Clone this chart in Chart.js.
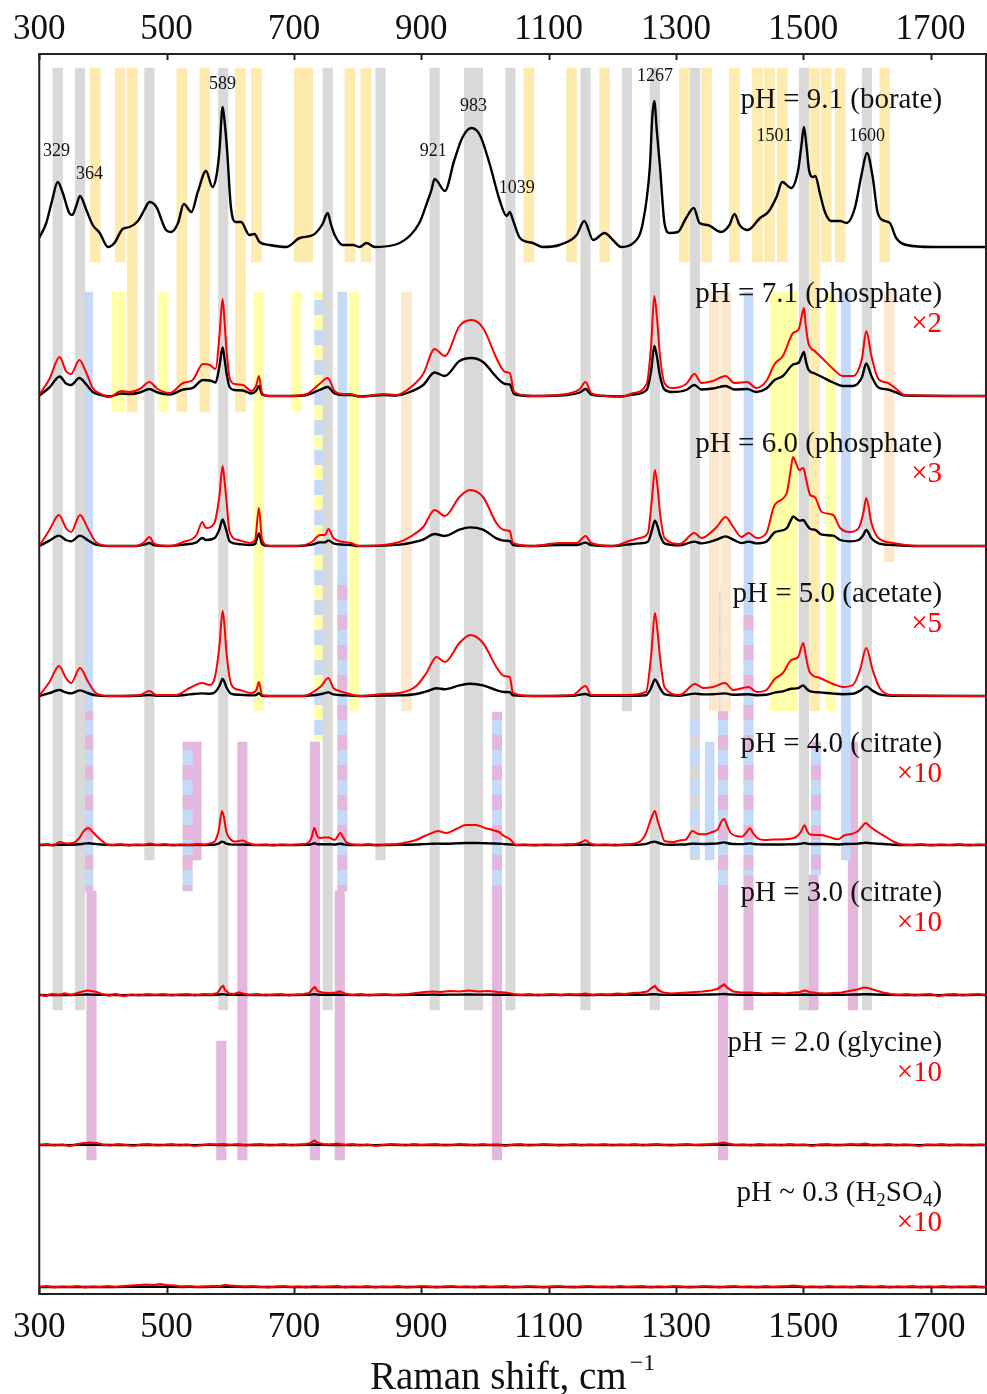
<!DOCTYPE html>
<html>
<head>
<meta charset="utf-8">
<script src="https://cdn.jsdelivr.net/npm/chart.js@4.4.0/dist/chart.umd.min.js"></script>
<style>
  html, body { margin: 0; padding: 0; background: #fff; }
</style>
</head>
<body>
<canvas id="raman-chart" width="987" height="1394"></canvas>
<script>
// Labels and magnification of each spectrum (top to bottom)
const phLabels = [
  'pH = 9.1 (borate)',
  'pH = 7.1 (phosphate)',
  'pH = 6.0 (phosphate)',
  'pH = 5.0 (acetate)',
  'pH = 4.0 (citrate)',
  'pH = 3.0 (citrate)',
  'pH = 2.0 (glycine)',
  'pH ~ 0.3 (H_2SO_4)'
];
const magnification = [1, 2, 3, 5, 10, 10, 10, 10];
// vertical offset of each trace (same units as intensity)
const stackOffsets = [1048, 898, 748, 598, 449, 299, 149, 7];

const xTicks = [300, 500, 700, 900, 1100, 1300, 1500, 1700];
const peakLabels = [329, 364, 589, 921, 983, 1039, 1267, 1501, 1600];

// Spectra: [Raman shift, intensity]; for pH < 9.1 the values are the magnified (red) trace
const spec91 = [[300,8],[311,23],[320,45],[329,64],[337,53],[347,33],[352,31],[358,40],[364,50],[374,36],[384,21],[395,13],[408,-1],[418,3],[431,17],[442,19],[455,25],[465,36],[473,44],[484,39],[499,16],[507,14],[518,23],[527,42],[539,34],[549,54],[562,75],[572,59],[578,69],[583,95],[588,139],[591,125],[595,96],[601,39],[609,24],[617,24],[630,11],[638,12],[646,4],[662,1],[688,-1],[709,8],[730,11],[745,22],[753,33],[758,22],[764,11],[777,1],[793,1],[803,-1],[814,3],[827,-1],[866,3],[897,23],[910,45],[916,56],[921,67],[925,65],[937,55],[952,86],[965,109],[979,118],[992,111],[1007,83],[1023,46],[1034,30],[1039,34],[1044,26],[1055,8],[1075,3],[1091,-1],[1117,1],[1144,11],[1156,25],[1170,6],[1188,13],[1201,6],[1214,-1],[1233,3],[1248,23],[1259,79],[1263,130],[1266,145],[1270,115],[1275,79],[1282,23],[1290,13],[1303,14],[1316,28],[1328,38],[1337,23],[1350,21],[1371,14],[1384,21],[1392,32],[1400,21],[1413,16],[1432,28],[1445,34],[1458,49],[1467,64],[1481,58],[1492,76],[1497,100],[1501,119],[1505,100],[1509,76],[1515,69],[1519,70],[1526,53],[1534,34],[1544,25],[1558,25],[1568,23],[1581,38],[1592,73],[1600,93],[1609,69],[1617,33],[1628,25],[1636,23],[1646,8],[1662,1],[1704,-1],[1787,-1]];
const spec71 = [[300,1],[316,17],[332,39],[342,25],[350,22],[363,36],[374,23],[384,8],[397,2],[410,-1],[429,5],[442,4],[458,7],[473,14],[486,7],[505,3],[526,13],[541,16],[557,32],[568,31],[577,27],[583,60],[588,97],[591,75],[594,47],[599,18],[607,12],[620,11],[633,5],[641,11],[645,20],[650,3],[662,0],[693,0],[720,2],[740,12],[753,18],[764,5],[777,2],[790,2],[803,-1],[840,2],[861,1],[882,8],[903,22],[921,47],[937,40],[960,70],[979,76],[997,68],[1018,38],[1026,28],[1032,24],[1039,23],[1046,4],[1075,0],[1128,2],[1149,7],[1158,14],[1167,3],[1191,0],[1214,-1],[1233,3],[1254,12],[1261,50],[1266,100],[1270,80],[1275,40],[1282,13],[1295,8],[1316,12],[1329,22],[1340,13],[1358,15],[1378,20],[1392,13],[1412,14],[1426,8],[1442,15],[1455,32],[1468,40],[1484,63],[1493,67],[1497,78],[1501,88],[1504,70],[1508,53],[1518,45],[1531,37],[1547,27],[1562,20],[1578,20],[1592,37],[1599,65],[1607,40],[1618,17],[1633,13],[1644,8],[1660,1],[1787,0]];
const spec60 = [[300,0],[316,16],[331,31],[342,18],[350,14],[364,31],[376,18],[389,4],[410,0],[452,0],[465,4],[473,9],[481,2],[505,0],[526,4],[547,11],[556,24],[562,18],[575,23],[583,50],[588,80],[591,65],[594,46],[599,14],[613,6],[631,3],[639,6],[645,38],[650,6],[662,0],[704,0],[728,4],[741,11],[749,11],[754,17],[762,8],[777,4],[790,3],[801,0],[840,1],[866,4],[882,9],[903,19],[921,36],[937,30],[960,49],[976,56],[997,49],[1018,23],[1030,16],[1039,15],[1044,3],[1075,0],[1117,3],[1144,3],[1158,10],[1167,3],[1201,0],[1222,4],[1243,8],[1256,13],[1262,45],[1267,76],[1271,60],[1275,33],[1282,8],[1306,2],[1329,13],[1340,8],[1364,19],[1378,29],[1390,19],[1403,9],[1414,13],[1427,8],[1442,13],[1455,41],[1474,53],[1480,75],[1484,89],[1489,82],[1494,76],[1500,78],[1505,65],[1511,51],[1518,49],[1529,34],[1547,31],[1558,18],[1573,14],[1587,18],[1594,32],[1599,48],[1607,23],[1618,8],[1641,3],[1680,0],[1787,0]];
const spec50 = [[300,0],[316,14],[331,30],[342,18],[350,13],[364,28],[376,15],[389,3],[410,0],[458,1],[473,5],[484,1],[515,1],[536,8],[556,13],[568,11],[576,19],[583,50],[588,85],[591,70],[594,44],[602,11],[615,6],[633,3],[641,6],[645,14],[650,1],[662,0],[714,0],[730,4],[743,10],[754,18],[762,8],[772,5],[782,3],[803,0],[840,2],[866,3],[892,10],[908,23],[924,39],[937,34],[960,53],[977,61],[997,53],[1018,29],[1030,20],[1039,19],[1044,3],[1075,0],[1138,1],[1158,10],[1167,1],[1222,1],[1253,4],[1261,40],[1267,83],[1271,65],[1275,39],[1282,9],[1306,1],[1330,12],[1343,8],[1358,9],[1377,13],[1390,6],[1414,9],[1427,4],[1442,6],[1455,17],[1468,23],[1481,36],[1492,39],[1500,53],[1504,40],[1510,24],[1526,18],[1547,12],[1562,9],[1578,11],[1589,26],[1599,48],[1609,26],[1620,8],[1641,1],[1787,0]];
const spec40 = [[300,0],[312,1],[322,-0.5],[332,3],[342,1.5],[353,2],[363,7],[370,14],[377,17],[384,13],[390,9],[397,5],[405,1],[415,0],[428,1],[440,-0.5],[452,0.5],[463,0],[473,1.5],[485,0],[497,1],[510,-0.5],[522,0.5],[535,0],[548,1],[560,0.5],[570,2],[576,4],[582,15],[587,34],[590,28],[594,13],[600,6],[606,3.5],[614,4],[620,4.5],[628,2],[641,0],[655,0.5],[668,-0.5],[680,0.5],[692,0],[704,0.5],[714,1],[722,2],[728,8],[732,17],[736,10],[740,7],[748,7.5],[755,7.5],[764,5],[769,9],[773,12],[777,8],[782,3],[792,0.5],[805,0],[818,1],[830,-0.5],[845,0.5],[861,1],[876,2.5],[892,5],[905,9],[913,11],[926,14],[939,12],[955,16],[970,20],[986,20],[1000,17],[1012,15],[1022,13],[1030,9],[1039,6],[1049,0],[1062,0.5],[1078,-0.5],[1095,0.5],[1110,0],[1128,0.7],[1142,1],[1152,3],[1158,4.7],[1164,2],[1175,0],[1190,0.5],[1205,-0.5],[1220,0.7],[1235,1.5],[1251,9],[1262,28],[1267,34],[1271,25],[1276,15],[1282,4],[1295,3],[1306,4.5],[1316,5.7],[1326,14],[1335,11],[1347,10.7],[1357,13],[1366,16],[1372,24],[1376,26],[1380,20],[1386,12],[1395,9],[1403,8.3],[1410,12],[1416,16.7],[1422,11],[1429,6.3],[1440,5],[1455,5.5],[1471,5.7],[1485,7],[1492,9.7],[1497,14],[1502,19.7],[1506,14],[1510,10.7],[1520,10],[1531,9.7],[1543,7.5],[1554,5.7],[1565,9.7],[1576,11],[1586,14],[1593,19],[1598,22],[1604,19],[1610,16],[1617,13],[1630,8],[1643,3],[1655,0.5],[1670,0],[1685,1],[1700,-0.5],[1715,0.5],[1730,0],[1745,1],[1760,-0.5],[1775,0.5],[1787,0]];
const spec30 = [[300,0.5],[310,-1],[320,1],[330,0],[340,1.5],[350,0],[360,2],[368,3.5],[375,4.5],[382,4],[390,3],[398,1],[410,-0.5],[420,1],[432,-1],[445,0.5],[458,-0.5],[470,1],[482,0],[495,1],[508,-0.5],[520,0.5],[532,1],[545,-0.5],[558,1],[570,0.5],[580,2],[586,8],[589,9],[592,5],[598,1.5],[606,1],[614,2.5],[620,1.5],[630,0],[642,1],[655,-0.5],[668,0.5],[680,1],[692,-0.5],[704,0.5],[716,1],[724,2],[729,6],[733,8],[737,4],[745,2.5],[755,2],[765,2.5],[772,3.5],[780,1.5],[792,0],[805,1],[818,-0.5],[830,0.5],[843,1],[856,0],[868,0.5],[880,1],[892,2],[905,3],[918,3.5],[930,3],[945,4],[960,3.5],[975,4.5],[990,3.5],[1005,4],[1020,3],[1032,2.5],[1045,1],[1058,0],[1070,1],[1083,-0.5],[1095,0.5],[1108,1],[1120,0],[1132,1],[1145,0.5],[1158,1.5],[1170,0],[1182,1],[1195,0.5],[1208,1.5],[1220,1],[1232,2],[1245,2.5],[1255,3.5],[1262,7],[1267,9],[1272,5],[1280,2.5],[1292,1.5],[1305,2],[1318,2.5],[1330,3],[1342,3.5],[1355,4.5],[1365,6],[1372,9],[1376,10.5],[1381,7],[1390,3.5],[1402,2.5],[1415,2.5],[1428,2],[1440,1.5],[1455,2],[1470,1.5],[1485,2.5],[1495,3],[1502,4.5],[1510,3],[1522,2],[1535,1.5],[1548,2],[1560,2.5],[1572,4],[1585,5.5],[1595,7.5],[1602,7],[1612,5],[1625,2.5],[1638,1],[1650,0],[1662,1],[1675,-0.5],[1688,0.5],[1700,1],[1712,-1],[1725,0.5],[1738,1],[1750,-0.5],[1762,0.5],[1775,1],[1787,0]];
const spec20 = [[300,0],[312,1],[324,-0.5],[336,0.5],[348,-1],[360,1],[370,2],[380,2.5],[390,2],[400,0.5],[412,-0.5],[424,1],[436,0],[448,-1],[460,0.5],[472,1],[484,-0.5],[496,0],[508,1],[520,-0.5],[532,0.5],[544,-1],[556,0],[568,1],[580,0.5],[590,1],[600,0],[612,1],[624,-0.5],[636,0.5],[648,1],[660,-0.5],[672,0],[684,1],[696,-0.5],[708,0.5],[718,1],[726,2],[732,4.5],[738,2],[746,1],[756,0.5],[768,1.5],[780,0],[792,1],[804,-0.5],[816,0.5],[828,-1],[840,0],[852,1],[864,0.5],[876,-0.5],[888,1],[900,0],[912,0.5],[924,1],[936,-0.5],[948,0],[960,1],[972,0.5],[984,-0.5],[996,1],[1008,0],[1020,0.5],[1032,-1],[1044,0.5],[1056,1],[1068,-0.5],[1080,0],[1092,1],[1104,0.5],[1116,-0.5],[1128,0],[1140,1],[1152,-0.5],[1164,0.5],[1176,0],[1188,1],[1200,-0.5],[1212,0.5],[1224,0],[1236,1],[1248,-0.5],[1260,0.5],[1270,1],[1282,0],[1294,-0.5],[1306,0.5],[1318,1],[1330,0],[1342,0.5],[1354,1],[1366,1.5],[1374,2.5],[1382,1.5],[1394,0],[1406,0.5],[1418,-0.5],[1430,1],[1442,0],[1454,0.5],[1466,-0.5],[1478,1],[1490,0],[1502,0.5],[1514,-1],[1526,0.5],[1538,1],[1550,-0.5],[1562,0],[1574,1],[1586,0.5],[1598,1.5],[1610,-0.5],[1622,0],[1634,1],[1646,-0.5],[1658,0.5],[1670,0],[1682,-1],[1694,0.5],[1706,0],[1718,1],[1730,-0.5],[1742,0.5],[1754,0],[1766,-0.5],[1778,0.5],[1787,0]];
const spec03 = [[300,0],[312,1],[324,-0.5],[336,0.5],[348,0],[360,1],[372,-0.5],[384,0.5],[396,0],[408,1],[420,0],[432,1],[444,1.5],[456,2],[468,2.5],[480,2],[490,3],[500,2],[512,1.5],[524,0.5],[536,1],[548,0],[560,0.5],[572,1],[584,1],[592,2],[600,1.5],[612,1],[624,0.5],[636,1],[648,0],[660,-0.5],[672,0.5],[684,1],[696,0],[708,0.5],[720,-0.5],[732,1],[744,0],[756,0.5],[768,1],[780,-0.5],[792,0.5],[804,0],[816,1],[828,-0.5],[840,0.5],[852,0],[864,1],[876,-0.5],[888,0],[900,1],[912,0.5],[924,-0.5],[936,0.5],[948,1],[960,0],[972,0.5],[984,-0.5],[996,1],[1008,0],[1020,0.5],[1032,1],[1044,-0.5],[1056,0],[1068,1],[1080,0.5],[1092,-0.5],[1104,0.5],[1116,1],[1128,0],[1140,-0.5],[1152,0.5],[1164,1],[1176,0],[1188,0.5],[1200,-0.5],[1212,1],[1224,0],[1236,0.5],[1248,1],[1260,-0.5],[1272,0.5],[1284,0],[1296,1],[1308,0.5],[1320,-0.5],[1332,0],[1344,1],[1356,0.5],[1368,-0.5],[1380,0.5],[1392,1],[1404,0],[1416,0.5],[1428,-0.5],[1440,1],[1452,0],[1464,0.5],[1476,1],[1484,1.5],[1492,1],[1504,0],[1516,0.5],[1528,-0.5],[1540,1],[1552,0],[1564,0.5],[1576,-0.5],[1588,1],[1600,0.5],[1612,0],[1624,1],[1636,-0.5],[1648,0.5],[1660,0],[1672,1],[1684,-0.5],[1696,0.5],[1708,0],[1720,1],[1732,-0.5],[1744,0.5],[1756,0],[1768,1],[1780,-0.5],[1787,0]];
const spectra = [spec91, spec71, spec60, spec50, spec40, spec30, spec20, spec03];

// Assignment bands: [Raman shift, lower end, upper end] (floating bars)
const grayBands = [[329,284,1226],[364,284,1226],[473,434,1226],[589,284,1226],[753,284,1226],[836,434,1226],[921,284,1226],[1040,284,1226],[1158,284,1226],[1223,583,1226],[1267,284,1226],[1330,583,1226],[1501,284,1226],[1600,284,1226]];
const grayWideBands = [[982,284,1226]];
const boratBands = [[388,1032,1226],[427,1032,1226],[446,882,1226],[524,882,1226],[560,882,1226],[616,882,1226],[641,1032,1226],[708,1032,1226],[722,1032,1226],[788,1032,1226],[813,1032,1226],[1069,1032,1226],[1136,1032,1226],[1188,1032,1226],[1313,1032,1226],[1348,1032,1226],[1392,1032,1226],[1428,1032,1226],[1447,1032,1226],[1467,1032,1226],[1518,583,1226],[1536,1032,1226],[1558,1032,1226],[1628,1032,1226]];
const yellowBands = [[495,882,1002],[645,583,1002],[704,882,1002],[794,583,1002],[1543,583,1002]];
const yellowMidBands = [[425,882,1002]];
const yellowWideBands = [[1469,583,1002]];
const peachBands = [[877,583,1002],[1360,583,1002],[1378,583,1002],[1635,732,1002]];
const blueBands = [[377,583,1002],[776,719,1002],[1414,687,1002],[1567,434,1002],[1353,434,552]];
const blueYellowBands = [[739,554,1002]];
const bluePinkBands = [[377,403,583],[776,403,719],[1414,419,687],[533,403,552],[1019,403,582],[1374,403,702],[1520,419,552]];
const blueGrayBands = [[1330,434,583]];
const pinkBands = [[382,134,403],[547,434,552],[619,134,552],[586,134,253],[733,134,552],[772,134,403],[1019,134,403],[1374,134,403],[1414,284,419],[1516,284,419],[1578,284,552]];

const FONT = '"Liberation Serif", "Times New Roman", serif';
const C_GRAY = '#d9d9d9', C_BORATE = '#fdebb0', C_YELLOW = '#ffffaa', C_PEACH = '#fce8cf';
const C_BLUE = '#c5d9f9', C_PINK = '#e3b8dc';

// two-colour dashed fill for shared bands
function stripes(c1, c2) {
  const cv = document.createElement('canvas');
  cv.width = 4; cv.height = 30;
  const g = cv.getContext('2d');
  g.fillStyle = c1; g.fillRect(0, 0, 4, 15);
  g.fillStyle = c2; g.fillRect(0, 15, 4, 15);
  return g.createPattern(cv, 'repeat');
}

function bandDataset(list, color, thickness) {
  return {
    type: 'bar',
    data: list.map(b => ({ x: b[0], y: [b[1], b[2]] })),
    backgroundColor: color,
    borderWidth: 0,
    barThickness: thickness,
    grouped: false,
    order: 10
  };
}

const datasets = [
  bandDataset(boratBands, C_BORATE, 10),
  bandDataset(yellowBands, C_YELLOW, 9.5),
  bandDataset(yellowMidBands, C_YELLOW, 13),
  bandDataset(yellowWideBands, C_YELLOW, 27),
  bandDataset(peachBands, C_PEACH, 10),
  bandDataset(grayBands, C_GRAY, 9.5),
  bandDataset(grayWideBands, C_GRAY, 18.5),
  bandDataset(blueBands, C_BLUE, 9),
  bandDataset(blueYellowBands, stripes(C_BLUE, C_YELLOW), 8.5),
  bandDataset(bluePinkBands, stripes(C_BLUE, C_PINK), 9.5),
  bandDataset(blueGrayBands, stripes(C_BLUE, C_GRAY), 9.5),
  bandDataset(pinkBands, C_PINK, 9.5)
];

// black = measured, red = magnified
spectra.forEach((spec, i) => {
  const noisy = i >= 5;
  datasets.push({
    type: 'line',
    data: spec.map(p => ({ x: p[0], y: stackOffsets[i] + p[1] / magnification[i] })),
    borderColor: '#000',
    borderWidth: 2.4,
    pointRadius: 0,
    fill: false,
    cubicInterpolationMode: noisy ? 'default' : 'monotone',
    order: 2
  });
  if (magnification[i] > 1) {
    datasets.push({
      type: 'line',
      data: spec.map(p => ({ x: p[0], y: stackOffsets[i] + p[1] })),
      borderColor: '#ff0000',
      borderWidth: noisy ? 2.2 : 2,
      pointRadius: 0,
      fill: false,
      cubicInterpolationMode: noisy ? 'default' : 'monotone',
      order: 1
    });
  }
});

// where the texts sit (data units)
const labelLevels = [1194, 1000, 850, 700, 550, 401, 251, 101];
const labelRight = 1718;
const peakLabelPos = [[327,1143],[379,1120],[588,1210],[919,1143],[982,1188],[1050,1106],[1267,1218],[1455,1158],[1600,1158]];

function drawRich(ctx, text, xRight, y, size) {
  // "_d" marks a subscript digit
  const parts = text.split(/_(\d)/);
  const runs = parts.map((t, k) => ({ t, sub: k % 2 === 1 }));
  const fontOf = r => (r.sub ? Math.round(size * 0.65) : size) + 'px ' + FONT;
  let w = 0;
  runs.forEach(r => { ctx.font = fontOf(r); w += ctx.measureText(r.t).width; });
  let x = xRight - w;
  ctx.textAlign = 'left';
  runs.forEach(r => {
    ctx.font = fontOf(r);
    ctx.fillText(r.t, x, r.sub ? y + size * 0.28 : y);
    x += ctx.measureText(r.t).width;
  });
}

const textPlugin = {
  id: 'ramanText',
  afterDraw(chart) {
    const { ctx, chartArea: a, scales: { x, y } } = chart;
    ctx.save();
    // frame and inward ticks
    ctx.strokeStyle = '#222';
    ctx.lineWidth = 2;
    ctx.strokeRect(a.left, a.top, a.right - a.left, a.bottom - a.top);
    ctx.beginPath();
    xTicks.forEach(v => {
      const px = Math.round(x.getPixelForValue(v)) + 0.5;
      ctx.moveTo(px, a.top); ctx.lineTo(px, a.top + 6);
      ctx.moveTo(px, a.bottom); ctx.lineTo(px, a.bottom - 6);
    });
    ctx.stroke();

    ctx.textBaseline = 'middle';
    const xr = x.getPixelForValue(labelRight);
    phLabels.forEach((lab, i) => {
      const py = y.getPixelForValue(labelLevels[i]);
      ctx.fillStyle = '#111';
      drawRich(ctx, lab, xr, py, 29);
      if (magnification[i] > 1) {
        ctx.fillStyle = '#ff0000';
        ctx.font = '29px ' + FONT;
        ctx.textAlign = 'right';
        ctx.fillText('\u00d7' + magnification[i], xr, py + 30);
      }
    });

    ctx.fillStyle = '#111';
    ctx.font = '18px ' + FONT;
    ctx.textAlign = 'center';
    peakLabels.forEach((p, k) => {
      ctx.fillText(String(p), x.getPixelForValue(peakLabelPos[k][0]), y.getPixelForValue(peakLabelPos[k][1]));
    });

    // axis title with superscript
    const main = 'Raman shift, cm', sup = '\u22121';
    ctx.font = '39px ' + FONT;
    const w1 = ctx.measureText(main).width;
    ctx.font = '24px ' + FONT;
    const w2 = ctx.measureText(sup).width;
    const cx = (a.left + a.right) / 2;
    const x0 = cx - (w1 + w2 + 3) / 2;
    ctx.textAlign = 'left';
    ctx.textBaseline = 'alphabetic';
    ctx.font = '39px ' + FONT;
    ctx.fillText(main, x0, 1389);
    ctx.font = '24px ' + FONT;
    ctx.fillText(sup, x0 + w1 + 3, 1370);
    ctx.restore();
  }
};

function axisCfg(position, pad, height) {
  return {
    type: 'linear',
    position: position,
    min: 300,
    max: 1787,
    offset: false,
    grid: { display: false, drawTicks: false },
    border: { display: false },
    ticks: {
      font: { family: FONT, size: 35 },
      color: '#111',
      padding: pad,
      maxRotation: 0,
      autoSkip: false,
      callback: v => String(v)
    },
    afterBuildTicks: s => { s.ticks = xTicks.map(v => ({ value: v })); },
    afterFit: s => { s.height = height; }
  };
}

new Chart(document.getElementById('raman-chart').getContext('2d'), {
  type: 'line',
  data: { datasets: datasets },
  options: {
    responsive: false,
    animation: false,
    events: [],
    layout: { padding: { left: 39, right: 1, top: 0, bottom: 0 } },
    plugins: { legend: { display: false }, tooltip: { enabled: false } },
    scales: {
      x: axisCfg('bottom', 13, 100),
      x2: axisCfg('top', 3, 54),
      y: { type: 'linear', display: false, min: 0, max: 1240 }
    }
  },
  plugins: [textPlugin]
});
</script>
</body>
</html>
